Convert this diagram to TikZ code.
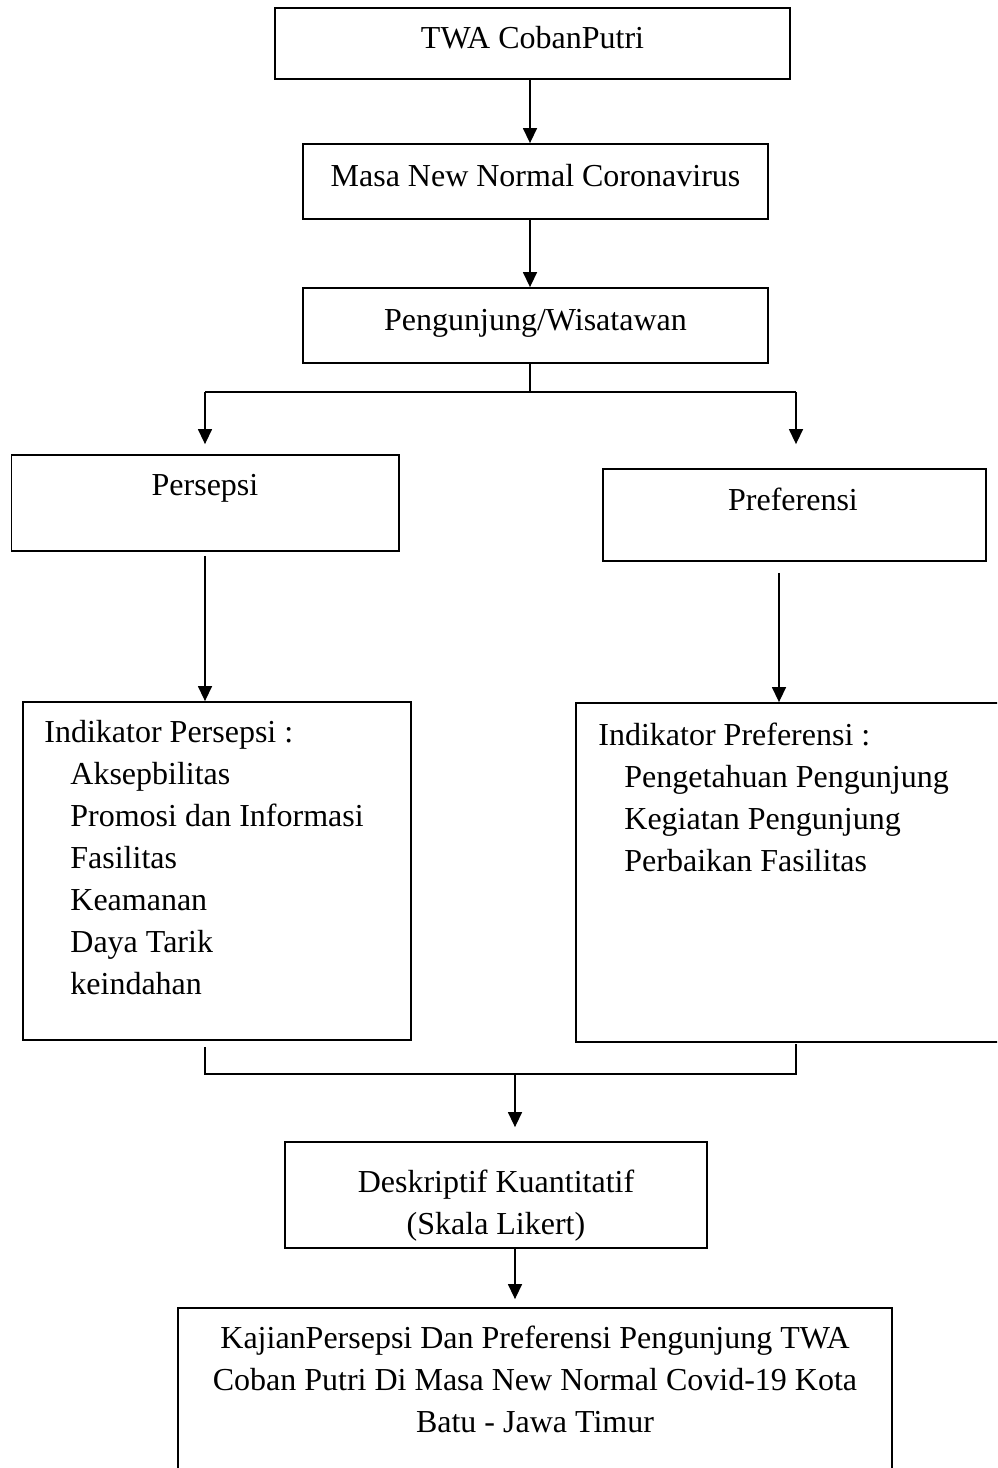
\documentclass[tikz,border=0pt]{standalone}
\usepackage{fontspec}
\setmainfont{Liberation Serif}
\usetikzlibrary{arrows.meta, positioning}

\tikzset{
  box/.style={draw, rectangle, line width=0.9pt, inner sep=0pt},
  onebox/.style={box, text height=11.2pt, text depth=6.4pt},
  txt/.style={inner sep=0pt},
  conn/.style={line width=0.7pt},
  arr/.style={conn, -{Triangle[length=7.5pt,width=7pt]}},
}

\begin{document}
\begin{tikzpicture}[x=0.5pt, y=-0.5pt, every node/.style={font=\fontsize{16}{21}\selectfont}]
\clip (0,0) rectangle (997,1468);
% top chain
\node[onebox, minimum width=257.5pt, minimum height=35.5pt] (twa) at (532.5,43.5) {TWA CobanPutri};
\node[onebox, minimum width=232.5pt, minimum height=37.5pt] (masa) at (535.5,181.5) {Masa New Normal Coronavirus};
\node[onebox, minimum width=232.5pt, minimum height=37.5pt] (peng) at (535.5,325.5) {Pengunjung/Wisatawan};
% two branches
\node[box, minimum width=193.75pt, minimum height=48pt] (persepsi) at (205.25,503) {};
\node[txt, anchor=base] (tpersepsi) at (205,495) {Persepsi};
\node[box, minimum width=191.5pt, minimum height=46pt] (preferensi) at (794.5,515) {};
\node[txt, anchor=base] (tpreferensi) at (793,510) {Preferensi};
% indicators
\node[box, minimum width=194pt, minimum height=169pt] (indpers) at (217,871) {};
\node[txt, anchor=north west, align=left] (tindpers) at (44,720) {Indikator Persepsi :\\
  \hspace*{13pt}Aksepbilitas\\
  \hspace*{13pt}Promosi dan Informasi\\
  \hspace*{13pt}Fasilitas\\
  \hspace*{13pt}Keamanan\\
  \hspace*{13pt}Daya Tarik\\
  \hspace*{13pt}keindahan};
\node[box, minimum width=217pt, minimum height=169.5pt] (indpref) at (793,872.5) {};
\node[txt, anchor=north west, align=left] (tindpref) at (598,723) {Indikator Preferensi :\\
  \hspace*{13pt}Pengetahuan Pengunjung\\
  \hspace*{13pt}Kegiatan Pengunjung\\
  \hspace*{13pt}Perbaikan Fasilitas};
% result
\node[box, minimum width=211pt, minimum height=53pt] (desk) at (496,1195) {};
\node[txt, anchor=north, align=center] (tdesk) at (496,1170) {Deskriptif Kuantitatif\\(Skala Likert)};
\node[box, minimum width=357pt, minimum height=96pt] (kajian) at (535,1404) {};
\node[txt, anchor=north, align=center] (tkajian) at (535,1326) {KajianPersepsi Dan Preferensi Pengunjung TWA\\
  Coban Putri Di Masa New Normal Covid-19 Kota\\
  Batu - Jawa Timur};
% fork and join points
\coordinate (fork) at (530,392);
\coordinate (forkL) at (205,392);
\coordinate (forkR) at (796,392);
\coordinate (joinL) at (205,1074);
\coordinate (joinR) at (796,1074);
\coordinate (join) at (515,1074);
% connectors
\draw[arr] (twa.south -| fork) -- (fork |- masa.north);
\draw[arr] (masa.south -| fork) -- (fork |- peng.north);
\draw[conn] (peng.south -| fork) -- (fork);
\draw[conn] (forkL) -- (forkR);
\draw[arr, shorten >=5pt] (forkL) -- (forkL |- persepsi.north);
\draw[arr, shorten >=12pt] (forkR) -- (forkR |- preferensi.north);
\draw[arr, shorten <=2pt] (persepsi.south -| forkL) -- (forkL |- indpers.north);
\draw[arr, shorten <=5.5pt] ([xshift=-7.75pt]preferensi.south) -- ([xshift=-7.75pt]preferensi.south |- indpref.north);
\draw[conn] ([yshift=-3pt]indpers.south -| joinL) -- (joinL) -- (joinR) -- ([yshift=-0.5pt]indpref.south -| joinR);
\draw[arr, shorten >=7pt] (join) -- (join |- desk.north);
\draw[arr, shorten >=4pt] (desk.south -| join) -- (join |- kajian.north);
\end{tikzpicture}
\end{document}
